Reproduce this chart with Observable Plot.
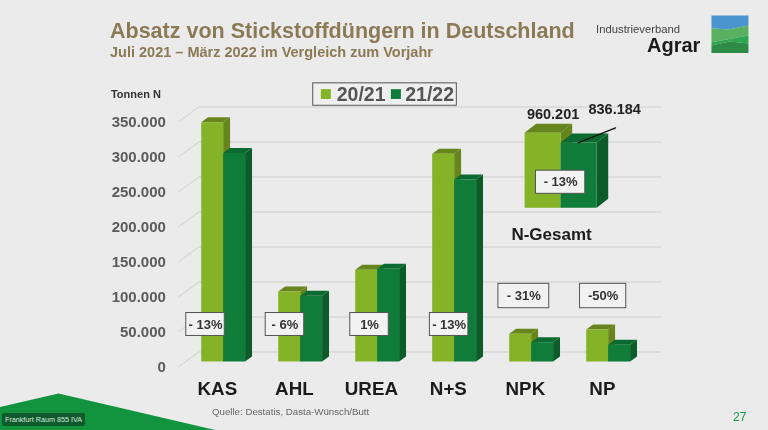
<!DOCTYPE html>
<html><head><meta charset="utf-8">
<script src="https://cdn.jsdelivr.net/npm/d3@7"></script>
<script src="https://cdn.jsdelivr.net/npm/@observablehq/plot@0.6"></script>
<style>
html,body{margin:0;padding:0;background:#ebebeb;width:768px;height:430px;overflow:hidden;font-family:"Liberation Sans",Arial,sans-serif}
#page{position:relative;width:768px;height:430px;overflow:hidden;filter:blur(0.35px)}
#chart{position:absolute;left:0;top:0}
.t{position:absolute;white-space:nowrap}
#title{left:110px;top:19px;font-size:21.5px;font-weight:700;color:#8c7a55}
#sub{left:110px;top:44px;font-size:14.5px;font-weight:700;color:#8c7a55}
#v1{left:596px;top:23px;font-size:11.3px;color:#444}
#v2{left:647px;top:34px;font-size:20px;font-weight:700;color:#1a1a1a}
#src{left:212px;top:405.5px;font-size:9.7px;color:#666}
#page27{left:733px;top:410px;font-size:12px;color:#159a45}
#room{left:2px;top:413px;padding:2px 3px;font-size:7.2px;color:#d8e8dc;background:#0e5a2c;border-radius:2px}
</style></head>
<body><div id="page">
<div id="chart"></div>
<div class="t" id="title">Absatz von Stickstoffdüngern in Deutschland</div>
<div class="t" id="sub">Juli 2021 – März 2022 im Vergleich zum Vorjahr</div>
<div class="t" id="v1">Industrieverband</div>
<div class="t" id="v2">Agrar</div>
<div class="t" id="src">Quelle: Destatis, Dasta-Wünsch/Butt</div>
<div class="t" id="page27">27</div>
<div class="t" id="room">Frankfurt Raum 855 IVA</div>
</div>
<script>
const categories = ["KAS","AHL","UREA","N+S","NPK","NP"];
const series2021 = [342000,100000,131000,297000,39600,45700];
const series2122 = [298000,94000,132500,260000,27600,24000];
const changes = ["- 13%","- 6%","1%","- 13%","- 31%","-50%"];
const ticks = [0,50000,100000,150000,200000,250000,300000,350000];
const totals = [960201,836184];
const totalLabels = ["960.201","836.184"];
const totalChange = "- 13%";
const seriesNames = ["20/21","21/22"];
// change-box placement, in chart units
const changeX = [0.056,1.088,2.186,3.22,4.19,5.22];
const changeY = [60000,60000,60000,60000,100700,100700];
const changeHalfW = [0.25,0.25,0.25,0.25,0.33,0.30];
const changeHalfH = [16400,16400,16400,16400,17400,17400];

const L = {front:"#84b327",top:"#66861d",side:"#66861d"};
const D = {front:"#0f7d39",top:"#0b6a2f",side:"#0c5c2a"};
const fmt = v => v===0 ? "0" : d3.format(",")(v).replace(/,/g,".");

// x unit: one category step; y unit: tonnes on the front plane of the 3-D box
const BAR = 0.285, GX = 0.09, GV = 7100;
const poly = [];
function box(id,x0,x1,base,v,c,gx,gv){
  const add=(f,pts,fill)=>pts.forEach(([x,y])=>poly.push({z:id+f,x,y,fill}));
  add("s",[[x1,base],[x1+gx,base+gv],[x1+gx,v+gv],[x1,v]],c.side);
  add("t",[[x0,v],[x1,v],[x1+gx,v+gv],[x0+gx,v+gv]],c.top);
  add("f",[[x0,base],[x1,base],[x1,v],[x0,v]],c.front);
}
categories.forEach((c,i)=>{
  box("l"+i,i,i+BAR,GV,series2021[i]+GV,L,GX,GV);
  box("d"+i,i+BAR,i+2*BAR,GV,series2122[i]+GV,D,GX,GV);
});
// inset N-Gesamt box, same scales
const K = 8.96, IB = 226700, IX = 4.2, IW = 0.468, IGX = 0.15, IGV = 12800;
box("il",IX,IX+IW,IB,IB+totals[0]/K,L,IGX,IGV);
box("id",IX+IW,IX+2*IW,IB,IB+totals[1]/K,D,IGX,IGV);

const BACK_X = 0.26, BACK_V = 20700, AX0 = -0.29, GRID_END = 5.965;
const gridFront = ticks.flatMap(t=>[{z:t,x:AX0,y:t},{z:t,x:AX0+BACK_X,y:t+BACK_V},{z:t,x:GRID_END,y:t+BACK_V}]);
const labelBoxes = changes.map((t,i)=>({t,x:changeX[i],y:changeY[i],w:changeHalfW[i],h:changeHalfH[i]}));

function ldx(t){return 6.627+t*0.48;}
const shape = (pts,fill)=>Plot.line(pts.map(([x,y])=>({x,y})),{x:"x",y:"y",fill,stroke:null,curve:"linear-closed"});

const plot = Plot.plot({
  width:768,height:430,margin:0,
  style:{background:"transparent",fontFamily:"'Liberation Sans',Arial,sans-serif",overflow:"visible"},
  x:{type:"linear",domain:[0,6],range:[200.7,662.7],axis:null},
  y:{type:"linear",domain:[0,350000],range:[366,121],axis:null},
  marks:[
    Plot.line(gridFront,{x:"x",y:"y",z:"z",stroke:"#d8d8d8",strokeWidth:1.5,curve:"linear"}),
    Plot.line(poly,{x:"x",y:"y",z:"z",fill:"fill",stroke:null,curve:"linear-closed"}),
    Plot.text(ticks,{x:()=>AX0,y:d=>d,text:fmt,textAnchor:"end",dx:-13,dy:1,fontSize:15,fontWeight:700,fill:"#5b5b5b"}),
    Plot.text(["Tonnen N"],{x:()=>AX0,y:()=>388500,text:d=>d,textAnchor:"end",dx:-18,fontSize:11,fontWeight:700,fill:"#333"}),
    Plot.text(categories,{x:(d,i)=>i+0.21,y:()=>-31400,text:d=>d,fontSize:18.8,fontWeight:700,fill:"#1c1c1c"}),
    // change boxes
    Plot.rect(labelBoxes,{x1:d=>d.x-d.w,x2:d=>d.x+d.w,y1:d=>d.y-d.h,y2:d=>d.y+d.h,fill:"#f2f2f2",stroke:"#555",strokeWidth:1}),
    Plot.text(labelBoxes,{x:"x",y:"y",text:"t",fontSize:13,fontWeight:700,fill:"#333"}),
    Plot.rect([0],{x1:()=>IX+IW-0.32,x2:()=>IX+IW+0.32,y1:()=>IB+20000,y2:()=>IB+53000,fill:"#f2f2f2",stroke:"#555",strokeWidth:1}),
    Plot.text([totalChange],{x:()=>IX+IW,y:()=>IB+36500,text:d=>d,fontSize:13,fontWeight:700,fill:"#333"}),
    // inset labels
    Plot.text(totalLabels,{x:(d,i)=>[4.57,5.37][i],y:(d,i)=>[360000,367000][i],text:d=>d,fontSize:14.5,fontWeight:700,fill:"#222"}),
    Plot.line([[4.896,319600],[5.381,341000]],{x:d=>d[0],y:d=>d[1],stroke:"#111",strokeWidth:1.3}),
    Plot.text(["N-Gesamt"],{x:()=>4.55,y:()=>188100,text:d=>d,fontSize:17,fontWeight:700,fill:"#1c1c1c"}),
    // legend
    Plot.rect([0],{x1:()=>1.455,x2:()=>3.32,y1:()=>372500,y2:()=>404500,fill:"#efefef",stroke:"#555",strokeWidth:1}),
    Plot.rect(seriesNames,{x1:(d,i)=>[1.56,2.47][i],x2:(d,i)=>[1.69,2.60][i],y1:()=>381500,y2:()=>395500,fill:(d,i)=>[L.front,D.front][i]}),
    Plot.text(seriesNames,{x:(d,i)=>[1.76,2.65][i],y:()=>388500,text:d=>d,textAnchor:"start",fontSize:19.5,fontWeight:700,fill:"#555"}),
    // footer shape
    shape([[-2.62,-58100],[-1.853,-38570],[0.21,-91430],[-2.62,-91430]],"#12943f"),
    // logo
    shape([[ldx(0),501400],[ldx(1),501400],[ldx(1),487100],[ldx(.45),481400],[ldx(0),483300]],"#4a94cf"),
    shape([[ldx(0),483300],[ldx(.45),481400],[ldx(1),487100],[ldx(1),472900],[ldx(0),463300]],"#58b060"),
    shape([[ldx(0),463300],[ldx(1),472900],[ldx(1),461400],[ldx(.5),464300],[ldx(0),458600]],"#2fa650"),
    shape([[ldx(0),458600],[ldx(.5),464300],[ldx(1),461400],[ldx(1),447900],[ldx(0),447900]],"#2d8b46")
  ]
});
document.getElementById("chart").append(plot);
</script>
</body></html>
